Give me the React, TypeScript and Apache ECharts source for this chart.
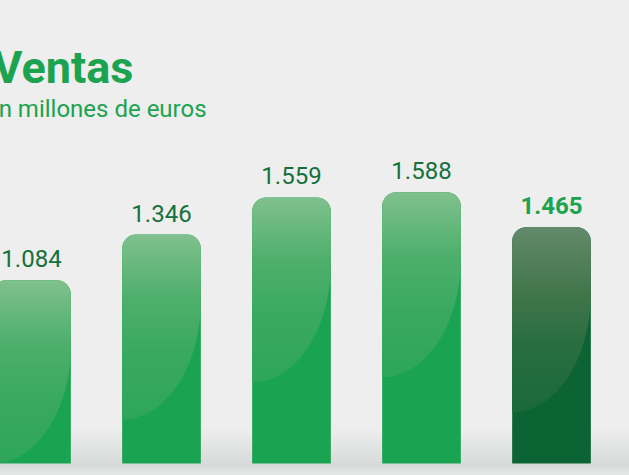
import React, { useEffect, useRef } from "react";
import * as echarts from "echarts";

const categories = ["Periodo 1", "Periodo 2", "Periodo 3", "Periodo 4", "Periodo 5"];
const values = [1084, 1346, 1559, 1588, 1465];
const highlightIndex = 4;
const title = "Ventas";
const subtitle = "En millones de euros";

const fmt = (v: number) => String(v).replace(/\B(?=(\d{3})+(?!\d))/g, ".");

const greenStops = [
  { offset: 0, color: "#80c08e" },
  { offset: 0.35, color: "#4daf6b" },
  { offset: 0.65, color: "#39a95f" },
  { offset: 1, color: "#2ea659" },
];
const darkStops = [
  { offset: 0, color: "#638a6b" },
  { offset: 0.35, color: "#42764b" },
  { offset: 0.65, color: "#276d3f" },
  { offset: 1, color: "#1a693b" },
];

const BAR_W = 78.7;

const makeRender = (stops: any[]) => (params: any, api: any) => {
  const idx = api.value(0);
  const v = api.value(1);
  const top = api.coord([idx, v]);
  const cs = params.coordSys;
  const bottom = cs.y + cs.height;
  const bw = BAR_W;
  const L = top[0] - bw / 2;
  const R = top[0] + bw / 2;
  const T = top[1];
  const r = 14;
  const k = 0.5523;
  const y1 = T + 66;
  const ry = Math.min(119, bottom - y1);
  const d =
    `M${L} ${y1 + ry} L${L} ${T + r} ` +
    `C${L} ${T + r - k * r} ${L + r - k * r} ${T} ${L + r} ${T} ` +
    `L${R - r} ${T} ` +
    `C${R - r + k * r} ${T} ${R} ${T + r - k * r} ${R} ${T + r} ` +
    `L${R} ${y1} ` +
    `C${R} ${y1 + k * ry} ${L + k * bw} ${y1 + ry} ${L} ${y1 + ry} Z`;
  return {
    type: "path",
    shape: { pathData: d },
    style: { fill: new echarts.graphic.LinearGradient(0, 0, 0, 1, stops) },
  };
};

export default function App() {
  const ref = useRef<HTMLDivElement>(null);
  useEffect(() => {
    document.body.style.margin = "0";
    const chart = echarts.init(ref.current!, null, { renderer: "svg" });
    const baseData = values.map((v, i) => (i === highlightIndex ? "-" : v));
    const hiData = values.map((v, i) => (i === highlightIndex ? v : "-"));
    const baseGloss = values
      .map((v, i) => [i, v])
      .filter((_, i) => i !== highlightIndex);
    const hiGloss = values
      .map((v, i) => [i, v])
      .filter((_, i) => i === highlightIndex);
    chart.setOption({
      animation: false,
      backgroundColor: "#edeeed",
      graphic: [
        {
          type: "rect",
          z: -10,
          x: 0,
          y: 428,
          shape: { width: 629, height: 47 },
          style: {
            fill: new echarts.graphic.LinearGradient(0, 0, 0, 1, [
              { offset: 0, color: "rgba(170,176,175,0)" },
              { offset: 0.8, color: "rgba(170,176,175,0.32)" },
              { offset: 1, color: "rgba(190,195,194,0.15)" },
            ]),
          },
        },
        {
          type: "text",
          x: -7,
          y: 44.8,
          style: {
            text: title,
            fontFamily: "Roboto",
            fontWeight: "bold",
            fontSize: 45,
            fill: "#1ba34f",
            verticalAlign: "top",
          },
        },
        {
          type: "text",
          x: -15,
          y: 96.5,
          style: {
            text: subtitle,
            fontFamily: "Roboto",
            fontWeight: "normal",
            fontSize: 24,
            fill: "#1ba34f",
            verticalAlign: "top",
          },
        },
      ],
      grid: { left: 31.5, right: 77.5, top: 114.3, bottom: 11.5 },
      xAxis: {
        type: "category",
        data: categories,
        boundaryGap: false,
        show: false,
      },
      yAxis: [
        { type: "value", min: 35, max: 2035, show: false, splitLine: { show: false } },
        { type: "value", min: 35, max: 2149, show: false, splitLine: { show: false } },
      ],
      series: [
        {
          type: "bar",
          yAxisIndex: 0,
          data: baseData,
          barWidth: BAR_W,
          itemStyle: { color: "#1aa351", borderRadius: [14, 14, 0, 0] },
          label: {
            show: true,
            position: "top",
            distance: 9,
            formatter: (p: any) => fmt(p.value),
            fontFamily: "Roboto",
            fontSize: 24,
            color: "#15703b",
          },
        },
        {
          type: "bar",
          yAxisIndex: 1,
          data: hiData,
          barWidth: BAR_W,
          barGap: "-100%",
          itemStyle: { color: "#0c6435", borderRadius: [14, 14, 0, 0] },
          label: {
            show: true,
            position: "top",
            distance: 9,
            formatter: (p: any) => fmt(p.value),
            fontFamily: "Roboto",
            fontWeight: "bold",
            fontSize: 24,
            color: "#1ba34f",
          },
        },
        {
          type: "custom",
          yAxisIndex: 0,
          z: 3,
          data: baseGloss,
          clip: false,
          renderItem: makeRender(greenStops),
        },
        {
          type: "custom",
          yAxisIndex: 1,
          z: 3,
          data: hiGloss,
          clip: false,
          renderItem: makeRender(darkStops),
        },
      ],
    });
    return () => chart.dispose();
  }, []);
  return <div ref={ref} style={{ width: 629, height: 475 }} />;
}
